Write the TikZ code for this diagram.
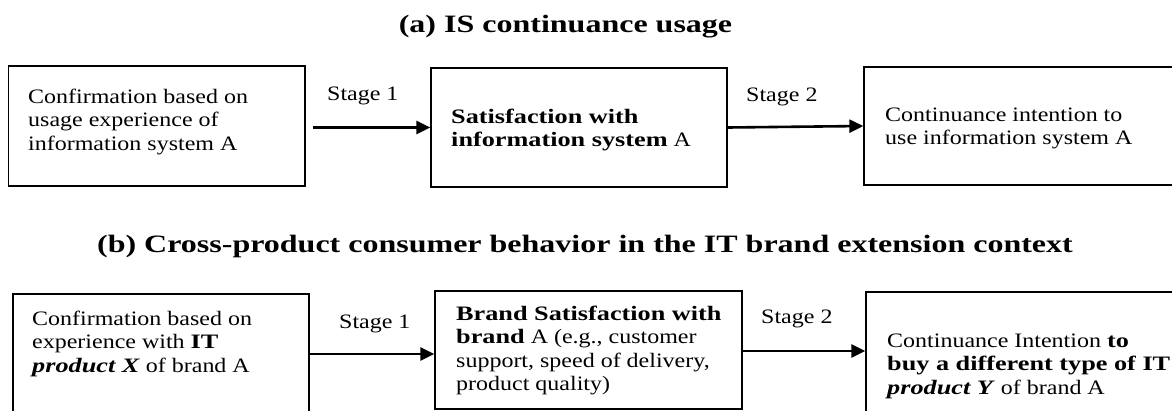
\documentclass[tikz,border=0pt]{standalone}
\usepackage{fontspec}
\setmainfont{Liberation Serif}[FakeStretch=1.17,BoldFeatures={FakeStretch=1.28},BoldItalicFeatures={FakeStretch=1.28}]
\usetikzlibrary{arrows.meta}

\begin{document}
\begin{tikzpicture}[x=1pt,y=-1pt,
  box/.style={draw,line width=1.3pt,inner sep=0pt},
  txt/.style={anchor=base west,align=left,inner sep=0pt,font=\fontsize{20.5}{23.5}\selectfont},
  hd/.style={anchor=base,inner sep=0pt,font=\fontsize{25}{30}\selectfont\bfseries},
  arr/.style={line width=2.6pt,-{Triangle[length=14pt,width=13pt]}}]
\useasboundingbox (0,0) rectangle (1172,410);
\clip (0,0) rectangle (1172,410);

% (a) IS continuance usage
% (multi-line nodes sit on the baseline of their last line)
\node[hd] (ttlA) at (565.5,32) {(a) IS continuance usage};
\node[box,minimum width=296.5pt,minimum height=120pt] (confA) at (156.75,126) {};
\node[box,minimum width=296pt,minimum height=119pt] (satA) at (579,127.5) {};
\node[box,minimum width=336pt,minimum height=118pt] (intA) at (1032,126) {};
\node[txt] (confAtxt) at (28,150) {Confirmation based on\\usage experience of\\information system A};
\node[txt] (satAtxt) at (451,146.5) {\textbf{Satisfaction with}\\\textbf{information system} A};
\node[txt] (intAtxt) at (885,144.5) {Continuance intention to\\use information system A};
\draw[arr] ([xshift=7pt]confA.east |- satA.west) -- (satA.west);
\draw[arr] (satA.east) -- (intA.west);
\node[txt] (stgAone) at (327,100) {Stage 1};
\node[txt] (stgAtwo) at (746,101) {Stage 2};

% (b) IT brand extension
\node[hd] (ttlB) at (585,252) {(b) Cross-product consumer behavior in the IT brand extension context};
\node[box,minimum width=296pt,minimum height=136pt] (confB) at (161,362) {};
\node[box,minimum width=307pt,minimum height=118pt] (satB) at (588.5,350) {};
\node[box,minimum width=334pt,minimum height=138pt] (intB) at (1033,361) {};
\node[txt] (confBtxt) at (32,372) {Confirmation based on\\experience with \textbf{IT}\\\textbf{\textit{product X}} of brand A};
\node[txt] (satBtxt) at (456,390.5) {\textbf{Brand Satisfaction with}\\\textbf{brand} A (e.g., customer\\support, speed of delivery,\\product quality)};
\node[txt] (intBtxt) at (887,394) {Continuance Intention \textbf{to}\\\textbf{buy a different type of IT}\\\textbf{\textit{product Y}} of brand A};
\draw[arr] ([yshift=8pt]confB.east) -- ([yshift=-4pt]satB.west);
\draw[arr] ([yshift=-1pt]satB.east) -- ([yshift=-1pt]satB.east -| intB.west);
\node[txt] (stgBone) at (339,328) {Stage 1};
\node[txt] (stgBtwo) at (761,323) {Stage 2};
\end{tikzpicture}
\end{document}
